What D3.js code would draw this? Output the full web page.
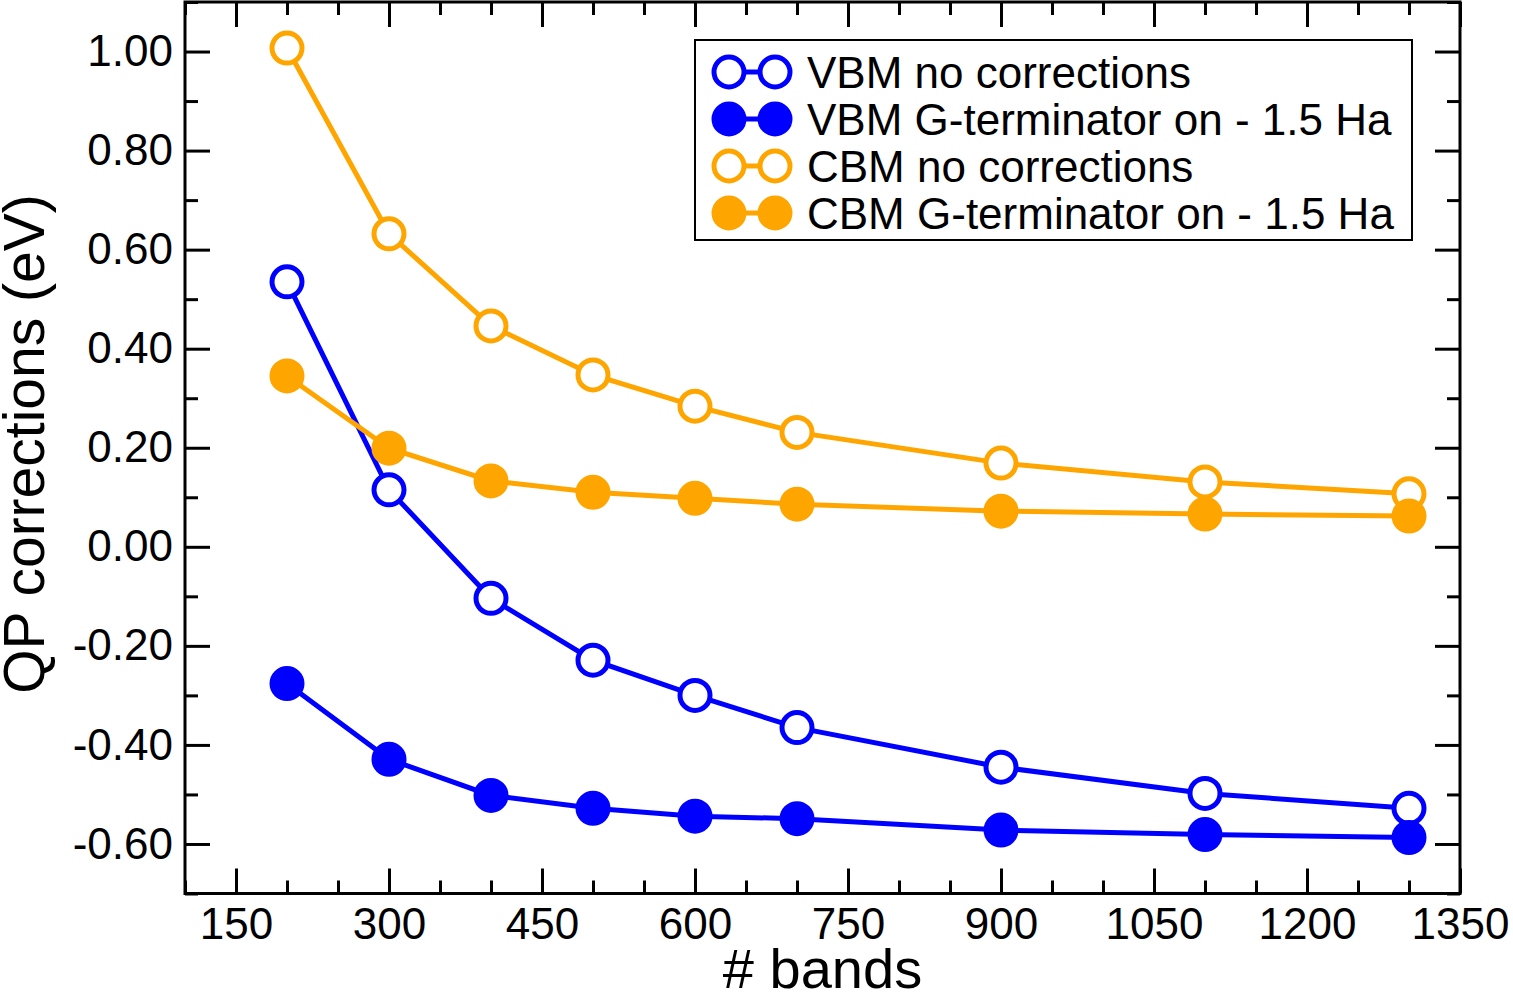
<!DOCTYPE html>
<html><head><meta charset="utf-8">
<script src="https://cdn.jsdelivr.net/npm/d3@7"></script>
<style>html,body{margin:0;padding:0;background:#fff;}svg{display:block;font-family:"Liberation Sans",Arial,sans-serif;}</style>
</head><body><svg id="c" width="1513" height="998"></svg>
<script>
const bands = [200, 300, 400, 500, 600, 700, 900, 1100, 1300];
const vbmNoCorr = [0.535, 0.115, -0.104, -0.229, -0.300, -0.365, -0.445, -0.498, -0.528];
const vbmGterm = [-0.276, -0.429, -0.502, -0.528, -0.544, -0.549, -0.572, -0.581, -0.587];
const cbmNoCorr = [1.007, 0.632, 0.446, 0.347, 0.284, 0.231, 0.169, 0.131, 0.107];
const cbmGterm = [0.345, 0.199, 0.133, 0.110, 0.098, 0.086, 0.072, 0.066, 0.062];
const xTicks = [150, 300, 450, 600, 750, 900, 1050, 1200, 1350];
const yTicks = [-0.6, -0.4, -0.2, 0, 0.2, 0.4, 0.6, 0.8, 1.0];
const seriesNames = ["VBM no corrections", "VBM G-terminator on - 1.5 Ha", "CBM no corrections", "CBM G-terminator on - 1.5 Ha"];
const seriesColors = ["#0000ff", "#0000ff", "#ffa500", "#ffa500"];
const seriesFilled = [false, true, false, true];
const seriesValues = [vbmNoCorr, vbmGterm, cbmNoCorr, cbmGterm];

const svg = d3.select("#c");
const L = 185, R = 1460, T = 2, B = 893.5;
const x = d3.scaleLinear().domain([100, 1350]).range([L, R]);
const y = d3.scaleLinear().domain([-0.7, 1.1]).range([B, T]);

const xMinor = d3.range(100, 1351, 50);
const yMinor = d3.range(-7, 12).map(d => d / 10);

const g = svg.append("g");
const fmtY = d => d3.format(".2f")(d).replace("\u2212", "-");
const xMinorOnly = xMinor.filter(v => xTicks.indexOf(v) < 0);
const yMinorOnly = yMinor.filter(v => !yTicks.some(t => Math.abs(t - v) < 1e-9));
const axB = g.append("g").attr("transform", `translate(0,${B})`)
  .call(d3.axisBottom(x).tickValues(xTicks).tickSize(-25).tickPadding(14).tickFormat(d3.format("d")));
const axBm = g.append("g").attr("transform", `translate(0,${B})`)
  .call(d3.axisBottom(x).tickValues(xMinorOnly).tickSize(-13).tickFormat(""));
const axT = g.append("g").attr("transform", `translate(0,${T})`)
  .call(d3.axisTop(x).tickValues(xTicks).tickSize(-25).tickFormat(""));
const axTm = g.append("g").attr("transform", `translate(0,${T})`)
  .call(d3.axisTop(x).tickValues(xMinorOnly).tickSize(-13).tickFormat(""));
const axL = g.append("g").attr("transform", `translate(${L},0)`)
  .call(d3.axisLeft(y).tickValues(yTicks).tickSize(-25).tickPadding(12).tickFormat(fmtY));
const axLm = g.append("g").attr("transform", `translate(${L},0)`)
  .call(d3.axisLeft(y).tickValues(yMinorOnly).tickSize(-13).tickFormat(""));
const axR = g.append("g").attr("transform", `translate(${R},0)`)
  .call(d3.axisRight(y).tickValues(yTicks).tickSize(-25).tickFormat(""));
const axRm = g.append("g").attr("transform", `translate(${R},0)`)
  .call(d3.axisRight(y).tickValues(yMinorOnly).tickSize(-13).tickFormat(""));
[axB, axBm, axT, axTm, axL, axLm, axR, axRm].forEach(a => {
  a.select(".domain").remove();
  a.selectAll(".tick line").attr("stroke", "#000").attr("stroke-width", 3);
  a.selectAll(".tick text").attr("fill", "#000").attr("font-size", 44).attr("font-family", "Liberation Sans, Arial, sans-serif");
});
g.append("rect").attr("x", L).attr("y", T).attr("width", R - L).attr("height", B - T)
  .attr("fill", "none").attr("stroke", "#000").attr("stroke-width", 3);

// data
const line = d3.line().x(d => x(d[0])).y(d => y(d[1]));
seriesValues.forEach((vals, i) => {
  const pts = bands.map((b, j) => [b, vals[j]]);
  svg.append("path").datum(pts).attr("d", line).attr("fill", "none")
    .attr("stroke", seriesColors[i]).attr("stroke-width", 5);
  svg.append("g").selectAll("circle").data(pts).join("circle")
    .attr("cx", d => x(d[0])).attr("cy", d => y(d[1])).attr("r", 15)
    .attr("fill", seriesFilled[i] ? seriesColors[i] : "#fff")
    .attr("stroke", seriesColors[i]).attr("stroke-width", 5);
});

// axis titles
svg.append("text").attr("x", (L + R) / 2).attr("y", 988).attr("text-anchor", "middle")
  .attr("font-size", 56).attr("fill", "#000").text("# bands");
svg.append("text").attr("transform", `translate(44,444) rotate(-90)`).attr("text-anchor", "middle")
  .attr("font-size", 57).attr("fill", "#000").text("QP corrections (eV)");

// legend
const lg = svg.append("g");
lg.append("rect").attr("x", 695).attr("y", 40).attr("width", 717).attr("height", 200)
  .attr("fill", "#fff").attr("stroke", "#000").attr("stroke-width", 2);
seriesNames.forEach((name, i) => {
  const yy = 72 + i * 47;
  lg.append("line").attr("x1", 729).attr("x2", 775).attr("y1", yy).attr("y2", yy)
    .attr("stroke", seriesColors[i]).attr("stroke-width", 5);
  [729, 775].forEach(cx => lg.append("circle").attr("cx", cx).attr("cy", yy).attr("r", 15)
    .attr("fill", seriesFilled[i] ? seriesColors[i] : "#fff")
    .attr("stroke", seriesColors[i]).attr("stroke-width", 5));
  lg.append("text").attr("x", 807).attr("y", yy + 16).attr("font-size", 44).attr("fill", "#000").text(name);
});
</script></body></html>
